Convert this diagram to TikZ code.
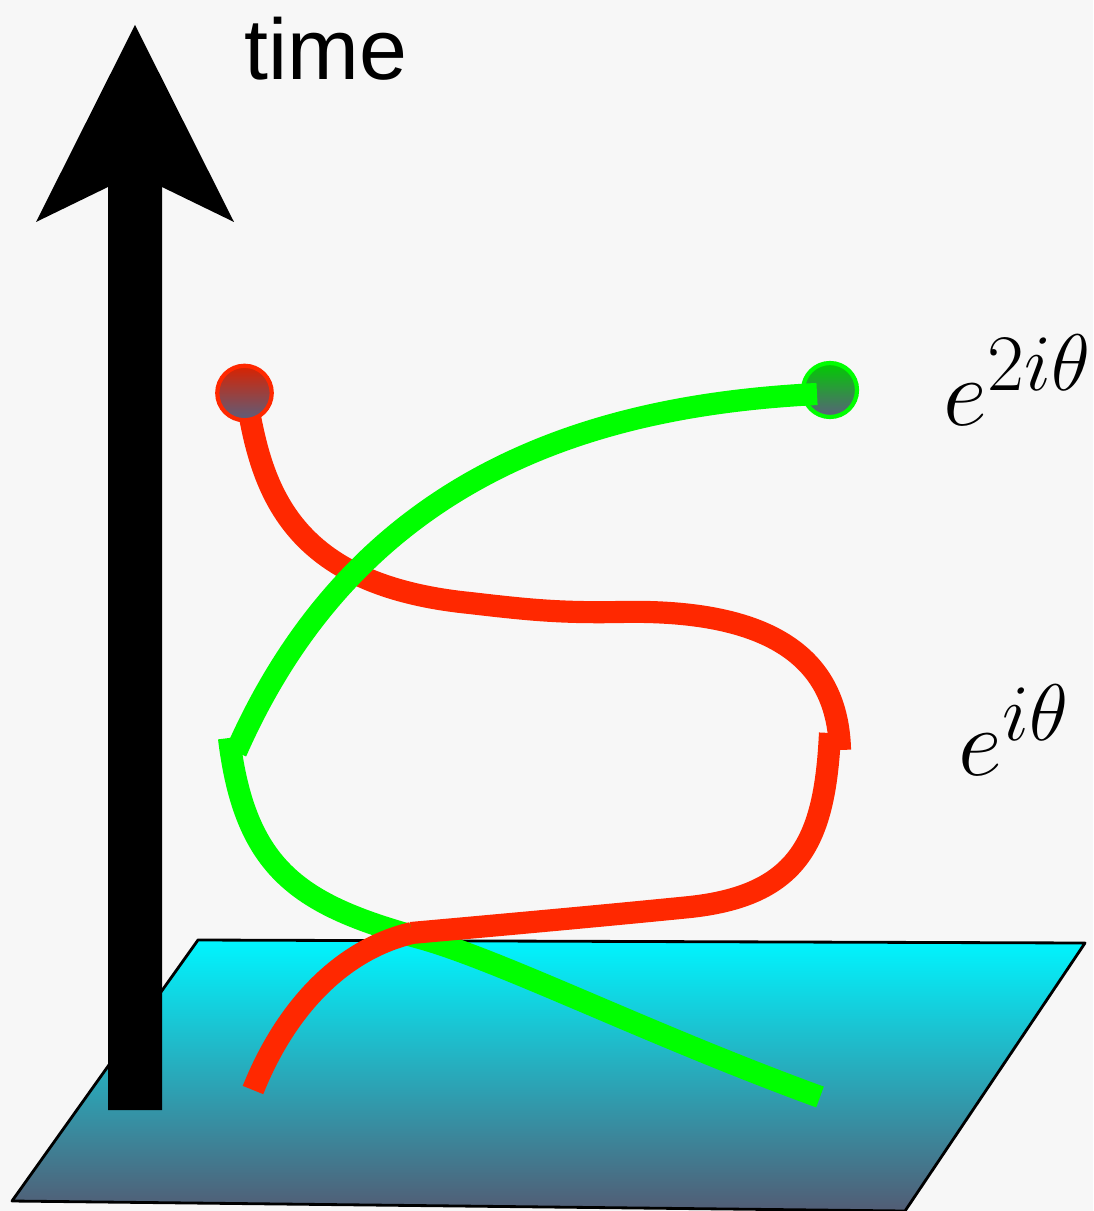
\documentclass[tikz,border=0pt]{standalone}
\usepackage{fontspec}
\setmainfont{Liberation Sans}
\definecolor{bg}{HTML}{F7F7F7}
\definecolor{redline}{RGB}{255,40,0}
\definecolor{greenline}{RGB}{0,255,0}
\definecolor{planetop}{RGB}{0,245,255}
\definecolor{planemid}{RGB}{22,182,195}
\definecolor{planebot}{RGB}{82,92,116}
\definecolor{dotbot}{RGB}{90,95,125}
\tikzset{
  redpath/.style={draw=redline, line width=6.3pt},
  greenpath/.style={draw=greenline, line width=6.3pt},
  lbl/.style={inner sep=0pt, font=\fontsize{24.5}{28}\selectfont},
  mlbl/.style={inner sep=0pt, scale=1.1, font=\Huge},
}
\begin{document}
\begin{tikzpicture}[x=0.2845pt, y=-0.2845pt]
\useasboundingbox (0,0) rectangle (1093,1211);
\fill[bg] (0,0) rectangle (1093,1211);

% plane
\coordinate (p1) at (198,940);
\coordinate (p2) at (1085,943);
\coordinate (p3) at (905,1211);
\coordinate (p4) at (12,1201);
\begin{scope}
  \clip (p1) -- (p2) -- (p3) -- (p4) -- cycle;
  \shade[top color=planetop, middle color=planemid, bottom color=planebot] (0,940) rectangle (1093,1211);
\end{scope}
\draw[line width=0.8pt, line join=round] (p1) -- (p2) -- (p3) -- (p4) -- cycle;

% time arrow
\fill[black] (108,1110) -- (108,187) -- (36,222) -- (135,25) -- (234,222) -- (162,187) -- (162,1110) -- cycle;
\node[lbl, anchor=base west] (time) at (244,80) {time};

% green dot (line drawn over it)
\shade[top color=greenline!80!black, bottom color=dotbot] (830,390) circle (27);
\draw[greenline, line width=1.2pt] (830,390) circle (27);
\coordinate (gdot) at (830,390);

% red upper
\draw[redpath] (247,400) .. controls (262,490) and (290,585) .. (470,603)
  .. controls (530,610) and (560,613) .. (620,612)
  .. controls (800,608) and (838,680) .. (840,750);
% green upper
\draw[greenpath] (817,394) .. controls (600,405) and (360,470) .. (236,752);
% green lower
\draw[greenpath] (229,738) .. controls (245,870) and (300,905) .. (420,938)
  .. controls (500,960) and (650,1035) .. (820,1097);
% red lower
\draw[redpath] (830,733) .. controls (825,840) and (800,895) .. (690,907)
  .. controls (600,916) and (500,925) .. (411,933);
\draw[redpath, line join=round] (412,933) .. controls (340,950) and (285,1010) .. (253,1090);

% red dot
\node[circle, minimum size=15.5pt, inner sep=0pt, draw=redline, line width=1.2pt, top color=redline!85!black, bottom color=dotbot] (rdot) at (244.5,393) {};

% labels
\node[mlbl, anchor=base west] (l2) at (943,425) {$e^{2i\theta}$};
\node[mlbl, anchor=base west] (l1) at (958,775) {$e^{i\theta}$};
\end{tikzpicture}
\end{document}
